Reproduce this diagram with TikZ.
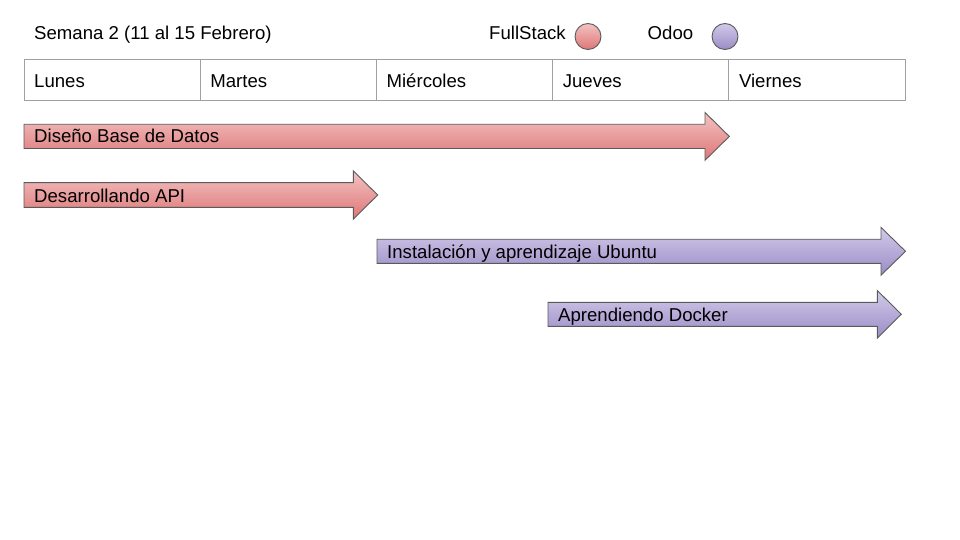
\documentclass[tikz,border=0pt]{standalone}
\usepackage{fontspec}
\setmainfont{Liberation Sans}
\usepackage{xcolor}
\usepackage{tikz}
\usetikzlibrary{positioning,calc}

\definecolor{fsTop}{HTML}{F3C2C2}
\definecolor{fsBot}{HTML}{DE7676}
\definecolor{odTop}{HTML}{D2CAEA}
\definecolor{odBot}{HTML}{9A8CC5}
\definecolor{gridgray}{HTML}{A0A0A0}
\definecolor{edgegray}{HTML}{5A5A5A}

\tikzset{
    txt/.style={anchor=base west, inner sep=0pt, font=\fontsize{18.6}{22}\selectfont},
    fullstack/.style={draw=edgegray, line width=0.9pt, top color=fsTop, bottom color=fsBot},
    odoo/.style={draw=edgegray, line width=0.9pt, top color=odTop, bottom color=odBot},
    daygrid/.style={draw=gridgray, line width=1pt}
}

% task arrow: #1 style, #2 start x, #3 head base x, #4 tip x, #5 body top, #6 body bottom
\newcommand{\taskarrow}[6]{%
    \draw [#1] (#2,#5) -- (#3,#5) -- (#3,#5-11.8) -- (#4,{(#5+#6)/2}) -- (#3,#6+11.8) -- (#3,#6) -- (#2,#6) -- cycle;
}

\begin{document}
\begin{tikzpicture}[x=1pt, y=-1pt]
    \useasboundingbox (0,0) rectangle (960,540);

    % Title and legend
    \node [txt] (semana) at (34,40) {Semana 2 (11 al 15 Febrero)};
    \node [txt] (fullstack) at (489,39.5) {FullStack};
    \draw [fullstack] (588,36.5) circle (13);
    \node [txt] (odoo) at (647.5,39.5) {Odoo};
    \draw [odoo] (725,36.5) circle (13);

    % Days of the week
    \draw [daygrid] (24,60) rectangle (905,101);
    \draw [daygrid] (200.2,60) -- (200.2,101);
    \draw [daygrid] (376.4,60) -- (376.4,101);
    \draw [daygrid] (552.6,60) -- (552.6,101);
    \draw [daygrid] (728.8,60) -- (728.8,101);
    \node [txt] (lunes) at (34,87.3) {Lunes};
    \node [txt] (martes) at (210.2,87.3) {Martes};
    \node [txt] (miercoles) at (386.4,87.3) {Miércoles};
    \node [txt] (jueves) at (562.6,87.3) {Jueves};
    \node [txt] (viernes) at (738.8,87.3) {Viernes};

    % FullStack tasks
    \taskarrow{fullstack}{24}{705}{729.3}{124.3}{148.5}
    \node [txt] (disenobd) at (34,142.7) {Diseño Base de Datos};
    \taskarrow{fullstack}{24}{353.3}{377.7}{182.7}{207.3}
    \node [txt] (api) at (34,202) {Desarrollando API};

    % Odoo tasks
    \taskarrow{odoo}{377}{881}{905.5}{239.2}{263.4}
    \node [txt] (ubuntu) at (387,258.5) {Instalación y aprendizaje Ubuntu};
    \taskarrow{odoo}{548}{877.3}{901.3}{302.3}{326.3}
    \node [txt] (docker) at (558,321.5) {Aprendiendo Docker};
\end{tikzpicture}
\end{document}
